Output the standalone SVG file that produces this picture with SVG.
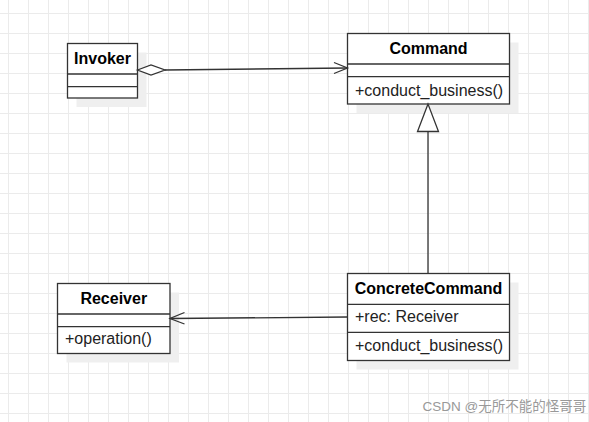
<svg xmlns="http://www.w3.org/2000/svg" width="589" height="422" viewBox="0 0 589 422">
<defs>
<pattern id="grid" x="8" y="13" width="20" height="20" patternUnits="userSpaceOnUse">
<path d="M0.5,0 V20 M0,0.5 H20" fill="none" stroke="#ebebeb" stroke-width="1"/>
</pattern>
</defs>
<style>
.box{fill:#ffffff;stroke:#333333;stroke-width:1.3}
.shadow{fill:#efefef;stroke:none}
.div{stroke:#333333;stroke-width:1.3}
.title{font-family:"Liberation Sans",Arial,sans-serif;font-size:16px;font-weight:bold;fill:#000000;text-anchor:middle}
.member{font-family:"Liberation Sans",Arial,sans-serif;font-size:16px;fill:#222222}
.edge{fill:none;stroke:#333333;stroke-width:1.3}
.wm{font-family:"Liberation Sans","Noto Sans CJK SC",sans-serif;font-size:13.5px;fill:#999999}
</style>
<rect x="0" y="0" width="589" height="422" fill="#ffffff"/>
<rect x="0" y="0" width="589" height="422" fill="url(#grid)"/>

<g id="Invoker">
<rect class="shadow" x="76.5" y="52.5" width="70" height="54.5"/>
<rect class="box" x="67.5" y="43.5" width="70" height="54.5"/>
<line class="div" x1="67.5" y1="74" x2="137.5" y2="74"/>
<line class="div" x1="67.5" y1="86.7" x2="137.5" y2="86.7"/>
<text class="title" x="102.5" y="64.3">Invoker</text>
</g>

<g id="Command">
<rect class="shadow" x="356.5" y="42.5" width="162" height="70.5"/>
<rect class="box" x="347.5" y="33.5" width="162" height="70.5"/>
<line class="div" x1="347.5" y1="64" x2="509.5" y2="64"/>
<line class="div" x1="347.5" y1="76.7" x2="509.5" y2="76.7"/>
<text class="title" x="428.5" y="54">Command</text>
<text class="member" x="355" y="95.5">+conduct_business()</text>
</g>

<g id="ConcreteCommand">
<rect class="shadow" x="356.5" y="282.5" width="162" height="87"/>
<rect class="box" x="347.5" y="273.5" width="162" height="87"/>
<line class="div" x1="347.5" y1="304.3" x2="509.5" y2="304.3"/>
<line class="div" x1="347.5" y1="332.3" x2="509.5" y2="332.3"/>
<text class="title" x="428.5" y="294.3">ConcreteCommand</text>
<text class="member" x="355" y="322.3">+rec: Receiver</text>
<text class="member" x="355" y="351">+conduct_business()</text>
</g>

<g id="Receiver">
<rect class="shadow" x="66.5" y="292.5" width="112.5" height="70"/>
<rect class="box" x="57.5" y="283.5" width="112.5" height="70"/>
<line class="div" x1="57.5" y1="314" x2="170" y2="314"/>
<line class="div" x1="57.5" y1="326.7" x2="170" y2="326.7"/>
<text class="title" x="113.75" y="304.3">Receiver</text>
<text class="member" x="65" y="344">+operation()</text>
</g>

<g id="connectors">
<line class="edge" x1="165" y1="70" x2="347.5" y2="68"/>
<polygon class="edge" fill="#ffffff" style="fill:#ffffff" points="137.5,70 151,65 165,70 151,75"/>
<polyline class="edge" points="334,62.5 347.5,68 334,73.5"/>
<line class="edge" x1="428" y1="131.5" x2="428" y2="273.5"/>
<polygon class="edge" style="fill:#ffffff" points="428,104 417.5,131.5 438.5,131.5"/>
<line class="edge" x1="347.5" y1="317" x2="170" y2="318.5"/>
<polyline class="edge" points="184.5,312.5 170,318.5 184.5,324"/>
</g>

<text class="wm" x="422.5" y="410.5">CSDN @无所不能的怪哥哥</text>
</svg>
